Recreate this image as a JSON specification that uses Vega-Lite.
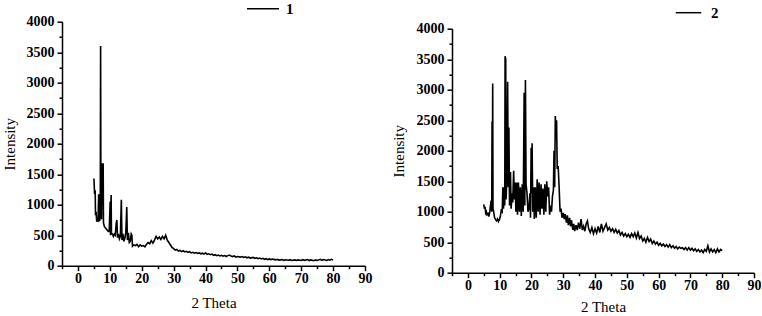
{
  "$schema": "https://vega.github.io/schema/vega-lite/v6.json",
  "padding": {"left": 2, "top": -8.3, "right": 0, "bottom": 0},
  "background": "white",
  "spacing": 20,
  "config": {
    "view": {"stroke": null},
    "font": "Liberation Serif",
    "axis": {
      "domainColor": "black", "domainWidth": 1.5, "tickColor": "black", "tickWidth": 1.5,
      "grid": false, "labelFont": "Liberation Serif", "labelFontSize": 14, "labelFontWeight": "bold", "labelColor": "black",
      "titleFont": "Liberation Serif", "titleFontSize": 15, "titleFontWeight": "normal", "titleColor": "black",
      "labelOverlap": false, "labelFlush": false
    },
    "legend": {
      "title": null, "orient": "none", "symbolType": "stroke", "symbolStrokeWidth": 1.5,
      "labelFont": "Liberation Serif", "labelFontSize": 15, "labelFontWeight": "bold", "labelColor": "black",
      "labelOffset": 9, "padding": 0
    }
  },
  "resolve": {"scale": {"color": "independent"}, "legend": {"color": "independent"}},
  "datasets": {
    "p1": [
      {"t":5.0,"I":1430},{"t":5.2,"I":1200},{"t":5.4,"I":1210},{"t":5.5,"I":850},{"t":5.7,"I":860},{"t":5.9,"I":720},{"t":6.1,"I":750},{"t":6.3,"I":740},{"t":6.5,"I":1170},{"t":6.6,"I":760},{"t":6.8,"I":730},{"t":7.0,"I":900},{"t":7.1,"I":3600},{"t":7.2,"I":900},{"t":7.4,"I":760},{"t":7.6,"I":1680},{"t":7.7,"I":1000},{"t":7.9,"I":1680},{"t":8.0,"I":700},{"t":8.3,"I":640},{"t":8.6,"I":620},{"t":8.9,"I":600},{"t":9.2,"I":580},{"t":9.5,"I":560},{"t":9.8,"I":560},{"t":10.1,"I":1050},{"t":10.2,"I":500},{"t":10.4,"I":1160},{"t":10.5,"I":520},{"t":10.8,"I":520},{"t":11.1,"I":480},{"t":11.4,"I":520},{"t":11.7,"I":500},{"t":12.0,"I":700},{"t":12.2,"I":750},{"t":12.4,"I":460},{"t":12.7,"I":520},{"t":13.0,"I":440},{"t":13.3,"I":480},{"t":13.6,"I":1080},{"t":13.8,"I":420},{"t":14.1,"I":520},{"t":14.4,"I":400},{"t":14.7,"I":450},{"t":15.0,"I":540},{"t":15.3,"I":960},{"t":15.5,"I":420},{"t":15.8,"I":540},{"t":16.1,"I":380},{"t":16.4,"I":400},{"t":16.7,"I":520},{"t":16.9,"I":500},{"t":17.1,"I":320},{"t":17.5,"I":340},{"t":18.0,"I":330},{"t":18.5,"I":350},{"t":19.0,"I":310},{"t":19.5,"I":340},{"t":20.0,"I":320},{"t":20.5,"I":330},{"t":21.0,"I":310},{"t":21.5,"I":350},{"t":22.0,"I":380},{"t":22.5,"I":360},{"t":23.0,"I":410},{"t":23.5,"I":370},{"t":24.0,"I":420},{"t":24.5,"I":480},{"t":25.0,"I":440},{"t":25.5,"I":470},{"t":26.0,"I":430},{"t":26.5,"I":480},{"t":27.0,"I":440},{"t":27.5,"I":500},{"t":28.0,"I":420},{"t":28.5,"I":380},{"t":29.0,"I":340},{"t":29.5,"I":300},
      {"t":30.0,"I":280},{"t":30.5,"I":255},{"t":31.0,"I":265},{"t":31.5,"I":240},{"t":32.0,"I":250},{"t":32.5,"I":230},{"t":33.0,"I":245},{"t":33.5,"I":225},{"t":34.0,"I":235},{"t":34.5,"I":220},{"t":35.0,"I":230},{"t":35.5,"I":210},{"t":36.0,"I":220},{"t":36.5,"I":205},{"t":37.0,"I":215},{"t":37.5,"I":200},{"t":38.0,"I":210},{"t":38.5,"I":195},{"t":39.0,"I":205},{"t":39.5,"I":190},{"t":40.0,"I":210},{"t":40.5,"I":185},{"t":41.0,"I":195},{"t":41.5,"I":180},{"t":42.0,"I":190},{"t":42.5,"I":170},{"t":43.0,"I":180},{"t":43.5,"I":165},{"t":44.0,"I":175},{"t":44.5,"I":160},{"t":45.0,"I":170},{"t":45.5,"I":155},{"t":46.0,"I":165},{"t":46.5,"I":150},{"t":47.0,"I":165},{"t":47.5,"I":175},{"t":48.0,"I":160},{"t":48.5,"I":150},{"t":49.0,"I":160},{"t":49.5,"I":140},{"t":50.0,"I":150},{"t":51.0,"I":140},{"t":51.5,"I":150},{"t":52.0,"I":135},{"t":52.5,"I":145},{"t":53.0,"I":130},{"t":53.5,"I":140},{"t":54.0,"I":125},{"t":55.0,"I":135},{"t":55.5,"I":120},{"t":56.0,"I":130},{"t":56.5,"I":115},{"t":57.0,"I":125},{"t":57.5,"I":110},{"t":58.0,"I":120},{"t":58.5,"I":105},{"t":59.0,"I":115},{"t":59.5,"I":100},{"t":60.0,"I":110},{"t":60.5,"I":100},{"t":61.0,"I":108},{"t":62.0,"I":95},{"t":62.5,"I":105},{"t":63.0,"I":92},{"t":64.0,"I":100},{"t":64.5,"I":88},{"t":65.0,"I":98},{"t":66.0,"I":90},{"t":66.5,"I":98},{"t":67.0,"I":85},{"t":68.0,"I":95},{"t":68.5,"I":85},{"t":69.0,"I":95},{"t":70.0,"I":85},{"t":70.5,"I":98},{"t":71.0,"I":88},{"t":72.0,"I":100},{"t":72.5,"I":85},{"t":73.0,"I":95},{"t":74.0,"I":82},{"t":74.5,"I":95},{"t":75.0,"I":85},{"t":76.0,"I":105},{"t":76.5,"I":88},{"t":77.0,"I":100},{"t":78.0,"I":85},{"t":78.5,"I":100},{"t":79.0,"I":90},{"t":79.5,"I":105},{"t":80.0,"I":95}
    ],
    "p2": [
      {"t":5.0,"I":1120},{"t":5.2,"I":1050},{"t":5.4,"I":1080},{"t":5.6,"I":980},{"t":5.8,"I":1000},{"t":6.0,"I":950},{"t":6.3,"I":970},{"t":6.6,"I":920},{"t":6.9,"I":1000},{"t":7.1,"I":1100},{"t":7.3,"I":1180},{"t":7.5,"I":1000},{"t":7.6,"I":2480},{"t":7.7,"I":1100},{"t":7.8,"I":3100},{"t":7.9,"I":1050},{"t":8.1,"I":1000},{"t":8.4,"I":900},{"t":8.7,"I":870},{"t":9.0,"I":850},{"t":9.3,"I":880},{"t":9.6,"I":840},{"t":9.9,"I":870},{"t":10.2,"I":920},{"t":10.5,"I":1020},{"t":10.8,"I":1000},{"t":11.0,"I":1400},{"t":11.2,"I":1050},{"t":11.4,"I":1400},{"t":11.6,"I":1100},{"t":11.7,"I":3550},{"t":11.9,"I":3500},{"t":12.0,"I":1200},{"t":12.3,"I":1600},{"t":12.5,"I":3130},{"t":12.7,"I":1400},{"t":12.9,"I":2380},{"t":13.1,"I":1100},{"t":13.4,"I":1650},{"t":13.6,"I":1050},{"t":13.9,"I":1300},{"t":14.1,"I":1150},{"t":14.4,"I":1670},{"t":14.6,"I":1200},{"t":14.9,"I":1480},{"t":15.1,"I":1000},{"t":15.4,"I":1480},{"t":15.6,"I":950},{"t":15.9,"I":1480},{"t":16.2,"I":1000},{"t":16.5,"I":1400},{"t":16.8,"I":930},{"t":17.1,"I":1450},{"t":17.4,"I":1000},{"t":17.7,"I":2950},{"t":17.9,"I":1100},{"t":18.1,"I":3160},{"t":18.3,"I":1450},{"t":18.6,"I":1300},{"t":18.9,"I":1000},{"t":19.2,"I":1050},{"t":19.5,"I":1300},{"t":19.7,"I":900},{"t":19.9,"I":2050},{"t":20.0,"I":1300},{"t":20.2,"I":2120},{"t":20.4,"I":1000},{"t":20.7,"I":1400},{"t":20.9,"I":880},{"t":21.2,"I":1400},{"t":21.5,"I":900},{"t":21.8,"I":1530},{"t":22.1,"I":1000},{"t":22.4,"I":1480},{"t":22.7,"I":950},{"t":23.0,"I":1450},{"t":23.3,"I":1050},{"t":23.6,"I":1380},{"t":23.9,"I":950},{"t":24.2,"I":1450},{"t":24.5,"I":1000},{"t":24.8,"I":1500},{"t":25.1,"I":1250},{"t":25.4,"I":1400},{"t":25.7,"I":950},{"t":26.0,"I":1100},{"t":26.3,"I":1000},{"t":26.6,"I":1250},{"t":26.9,"I":1350},{"t":27.1,"I":2000},{"t":27.3,"I":1400},{"t":27.5,"I":2570},{"t":27.7,"I":2200},{"t":27.9,"I":2500},{"t":28.1,"I":1700},{"t":28.4,"I":1750},{"t":28.7,"I":1400},{"t":29.0,"I":1000},{"t":29.3,"I":1050},{"t":29.6,"I":900},
      {"t":30.0,"I":980},{"t":30.3,"I":880},{"t":30.6,"I":960},{"t":31.0,"I":820},{"t":31.3,"I":940},{"t":31.6,"I":780},{"t":32.0,"I":900},{"t":32.3,"I":760},{"t":32.6,"I":860},{"t":33.0,"I":700},{"t":33.3,"I":800},{"t":33.6,"I":680},{"t":34.0,"I":780},{"t":34.4,"I":700},{"t":34.8,"I":820},{"t":35.2,"I":720},{"t":35.6,"I":880},{"t":36.0,"I":700},{"t":36.4,"I":760},{"t":36.8,"I":680},{"t":37.2,"I":800},{"t":37.6,"I":850},{"t":38.0,"I":720},{"t":38.5,"I":660},{"t":39.0,"I":740},{"t":39.5,"I":640},{"t":40.0,"I":720},{"t":40.5,"I":650},{"t":41.0,"I":760},{"t":41.5,"I":660},{"t":42.0,"I":800},{"t":42.5,"I":680},{"t":43.0,"I":740},{"t":43.5,"I":800},{"t":44.0,"I":700},{"t":44.5,"I":740},{"t":45.0,"I":680},{"t":45.5,"I":720},{"t":46.0,"I":660},{"t":46.5,"I":710},{"t":47.0,"I":650},{"t":47.5,"I":690},{"t":48.0,"I":620},{"t":48.5,"I":660},{"t":49.0,"I":600},{"t":49.5,"I":640},{"t":50.0,"I":590},{"t":50.5,"I":630},{"t":51.0,"I":580},{"t":51.5,"I":640},{"t":52.0,"I":590},{"t":52.5,"I":650},{"t":53.0,"I":570},{"t":53.5,"I":660},{"t":54.0,"I":560},{"t":54.5,"I":600},{"t":55.0,"I":520},{"t":55.5,"I":560},{"t":56.0,"I":500},{"t":56.5,"I":580},{"t":57.0,"I":510},{"t":57.5,"I":550},{"t":58.0,"I":480},{"t":58.5,"I":520},{"t":59.0,"I":470},{"t":59.5,"I":500},{"t":60.0,"I":450},{"t":60.5,"I":480},{"t":61.0,"I":440},{"t":61.5,"I":470},{"t":62.0,"I":430},{"t":62.5,"I":460},{"t":63.0,"I":420},{"t":63.5,"I":460},{"t":64.0,"I":410},{"t":64.5,"I":440},{"t":65.0,"I":400},{"t":65.5,"I":430},{"t":66.0,"I":390},{"t":66.5,"I":420},{"t":67.0,"I":400},{"t":67.5,"I":410},{"t":68.0,"I":380},{"t":68.5,"I":410},{"t":69.0,"I":370},{"t":69.5,"I":410},{"t":70.0,"I":370},{"t":70.5,"I":400},{"t":71.0,"I":360},{"t":71.5,"I":390},{"t":72.0,"I":350},{"t":72.5,"I":380},{"t":73.0,"I":340},{"t":73.5,"I":370},{"t":74.0,"I":330},{"t":74.5,"I":380},{"t":75.0,"I":350},{"t":75.5,"I":440},{"t":76.0,"I":340},{"t":76.5,"I":390},{"t":77.0,"I":340},{"t":77.5,"I":380},{"t":78.0,"I":330},{"t":78.5,"I":390},{"t":79.0,"I":340},{"t":79.5,"I":380},{"t":80.0,"I":360}
    ]
  },
  "hconcat": [
    {
      "width": 303, "height": 244,
      "data": {"name": "p1"},
      "mark": {"type": "line", "strokeWidth": 1.6},
      "encoding": {
        "x": {"field": "t", "type": "quantitative",
          "scale": {"domain": [-5, 90], "nice": false, "zero": false},
          "axis": {"title": "2 Theta", "values": [-5,0,5,10,15,20,25,30,35,40,45,50,55,60,65,70,75,80,85,90],
            "labelExpr": "datum.value % 10 === 0 ? datum.label : ''",
            "tickSize": {"condition": {"test": "datum.value % 10 === 0", "value": 5}, "value": 3},
            "labelPadding": 1, "titlePadding": 10}},
        "y": {"field": "I", "type": "quantitative",
          "scale": {"domain": [0, 4000], "nice": false},
          "axis": {"title": "Intensity", "values": [0,250,500,750,1000,1250,1500,1750,2000,2250,2500,2750,3000,3250,3500,3750,4000],
            "labelExpr": "datum.value % 500 === 0 ? datum.label : ''",
            "format": "d",
            "tickSize": {"condition": {"test": "datum.value % 500 === 0", "value": 5}, "value": 3},
            "labelPadding": 3, "titlePadding": 9}},
        "color": {"datum": "1", "scale": {"range": ["black"]},
          "legend": {"legendX": 184, "legendY": -30, "symbolSize": 1024, "labelOffset": 6}}
      }
    },
    {
      "width": 302, "height": 251,
      "data": {"name": "p2"},
      "mark": {"type": "line", "strokeWidth": 1.6},
      "encoding": {
        "x": {"field": "t", "type": "quantitative",
          "scale": {"domain": [-5, 90], "nice": false, "zero": false},
          "axis": {"title": "2 Theta", "values": [-5,0,5,10,15,20,25,30,35,40,45,50,55,60,65,70,75,80,85,90],
            "labelExpr": "datum.value % 10 === 0 ? datum.label : ''",
            "tickSize": {"condition": {"test": "datum.value % 10 === 0", "value": 5}, "value": 3},
            "labelPadding": 1, "titlePadding": 7}},
        "y": {"field": "I", "type": "quantitative",
          "scale": {"domain": [0, 4000], "nice": false, "range": [251, 7]},
          "axis": {"title": "Intensity", "values": [0,250,500,750,1000,1250,1500,1750,2000,2250,2500,2750,3000,3250,3500,3750,4000],
            "labelExpr": "datum.value % 500 === 0 ? datum.label : ''",
            "format": "d",
            "tickSize": {"condition": {"test": "datum.value % 500 === 0", "value": 5}, "value": 3},
            "labelPadding": 3, "titlePadding": 9}},
        "color": {"datum": "2", "scale": {"range": ["black"]},
          "legend": {"legendX": 223, "legendY": -22.5, "symbolSize": 650}}
      }
    }
  ]
}
